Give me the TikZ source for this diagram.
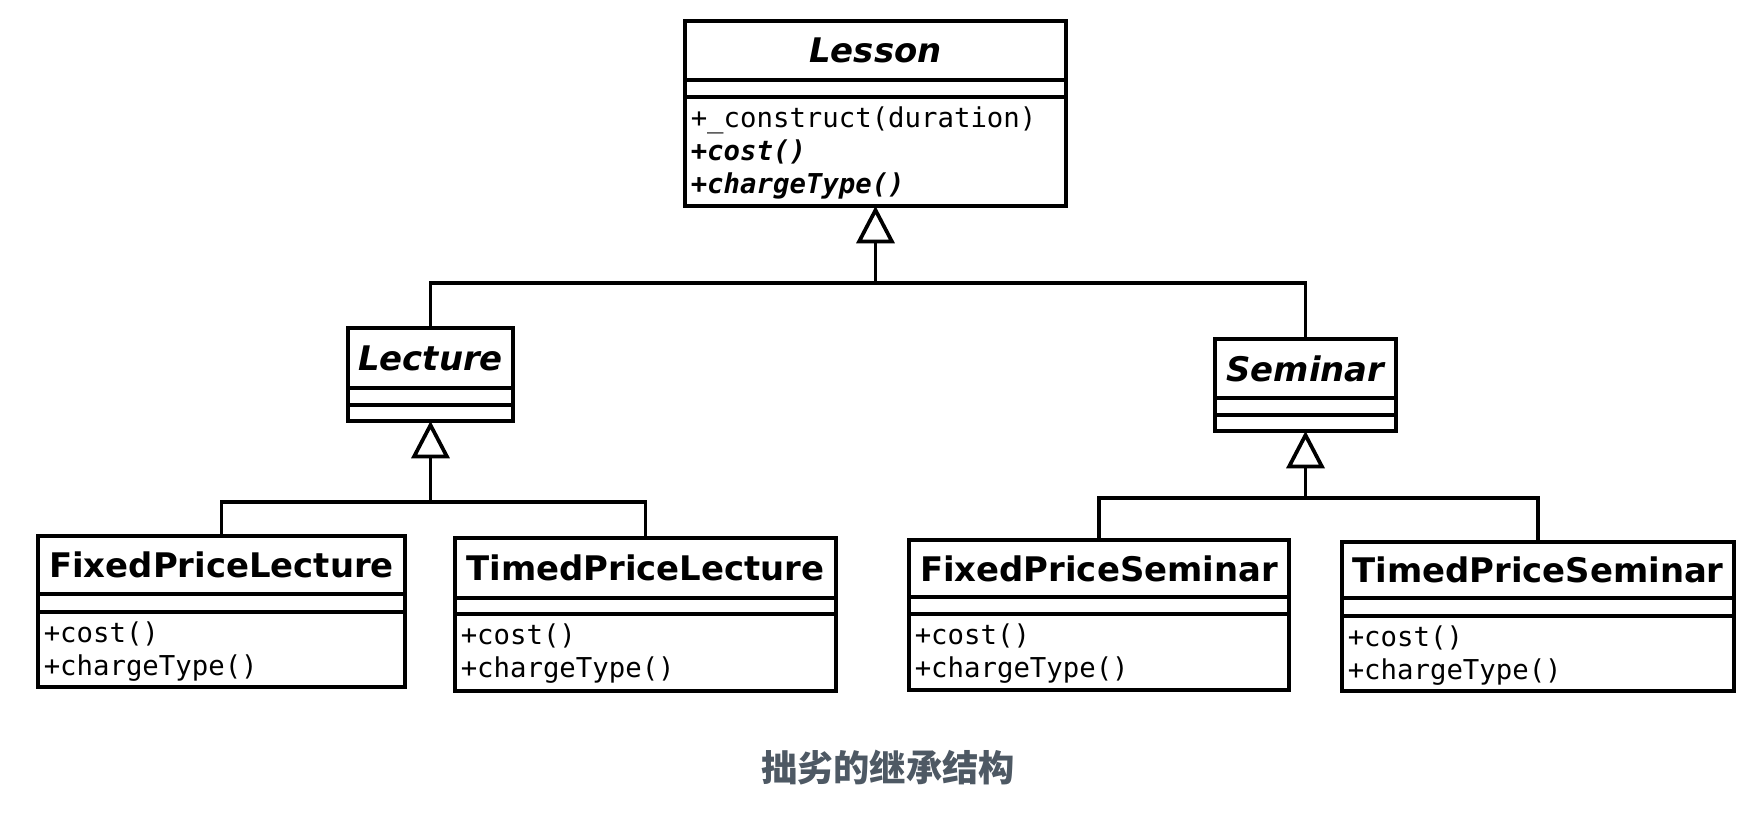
\documentclass[tikz,border=0pt]{standalone}
\usepackage{fontspec}
\setmainfont{DejaVu Sans}
\newfontfamily\monof{DejaVu Sans Mono}
\newfontfamily\cjkf{Noto Sans CJK SC}
\usetikzlibrary{arrows.meta,fit}
\definecolor{capgray}{HTML}{4E5964}
\tikzset{
  thickline/.style={line width=2.8pt},
  clsbox/.style={draw, thickline, inner sep=0pt, outer sep=0pt, fill=white},
  titleN/.style={font=\fontsize{25.4pt}{30pt}\selectfont\bfseries, inner sep=0pt},
  titleI/.style={font=\fontsize{25.4pt}{30pt}\selectfont\bfseries\itshape, inner sep=0pt},
  memb/.style={font=\monof\fontsize{20.5pt}{24pt}\selectfont, anchor=base west, inner sep=0pt},
  amemb/.style={memb, font=\monof\fontsize{20.5pt}{24pt}\selectfont\bfseries\itshape},
  conn/.style={thickline, line join=miter},
  inh/.style={conn, -{Triangle[open, length=28pt, width=28.5pt]}},
  captxt/.style={font=\cjkf\bfseries\fontsize{27.2pt}{30pt}\selectfont, text=capgray, inner sep=0pt},
}
% #1 name, #2 x1, #3 y1, #4 x2, #5 y2, #6 first divider, #7 second divider, #8 title style, #9 title
\newcommand\umlclass[9]{%
  \node[clsbox, fit={(#2,#3) (#4,#5)}] (#1) {};
  \draw[thickline] (#1.west |- 0,#6) -- (#1.east |- 0,#6)
                   (#1.west |- 0,#7) -- (#1.east |- 0,#7);
  \node[#8] (#1-title) at ({(#2+#4)/2},{(#3+#6)/2}) {#9};
}
\begin{document}
\begin{tikzpicture}[x=0.75pt, y=-0.75pt]
\useasboundingbox (0,0) rectangle (1764,814);

% classes
\umlclass{lesson}{685}{21}{1066}{206}{80}{97}{titleI}{Lesson}
\node[memb]  (lesson-m1) at (690.5,127) {+\_construct(duration)};
\node[amemb] (lesson-m2) at (690.5,160) {+cost()};
\node[amemb] (lesson-m3) at (690.5,193) {+chargeType()};

\umlclass{lec}{348}{328}{513}{421}{388}{405}{titleI}{Lecture}
\umlclass{sem}{1215}{339}{1396}{431}{398}{415}{titleI}{Seminar}

\umlclass{fpl}{38}{536}{405}{687}{594}{612}{titleN}{FixedPriceLecture}
\node[memb] (fpl-m1) at (43.5,642) {+cost()};
\node[memb] (fpl-m2) at (43.5,675) {+chargeType()};

\umlclass{tpl}{455}{538}{836}{691}{598}{614}{titleN}{TimedPriceLecture}
\node[memb] (tpl-m1) at (460.5,644) {+cost()};
\node[memb] (tpl-m2) at (460.5,677) {+chargeType()};

\umlclass{fps}{909}{540}{1289}{690}{597}{614}{titleN}{FixedPriceSeminar}
\node[memb] (fps-m1) at (914.5,644) {+cost()};
\node[memb] (fps-m2) at (914.5,677) {+chargeType()};

\umlclass{tps}{1342}{542}{1734}{691}{598}{616}{titleN}{TimedPriceSeminar}
\node[memb] (tps-m1) at (1347.5,646) {+cost()};
\node[memb] (tps-m2) at (1347.5,679) {+chargeType()};

% connectors
\coordinate (j0) at (lesson.south |- 0,283);
\draw[conn] (lec.north) |- (j0);
\draw[conn] (sem.north) |- (j0);
\draw[inh] (j0) -- (lesson.south);

\coordinate (j1) at (lec.south |- 0,502);
\draw[conn] (fpl.north) |- (j1);
\draw[conn] (tpl.north) |- (j1);
\draw[inh] (j1) -- (lec.south);

\coordinate (j2) at (sem.south |- 0,498);
\draw[conn] (fps.north) |- (j2);
\draw[conn] (tps.north) |- (j2);
\draw[inh] (j2) -- (sem.south);

% caption
\node[captxt] (cap) at (888,768) {拙劣的继承结构};
\end{tikzpicture}
\end{document}
